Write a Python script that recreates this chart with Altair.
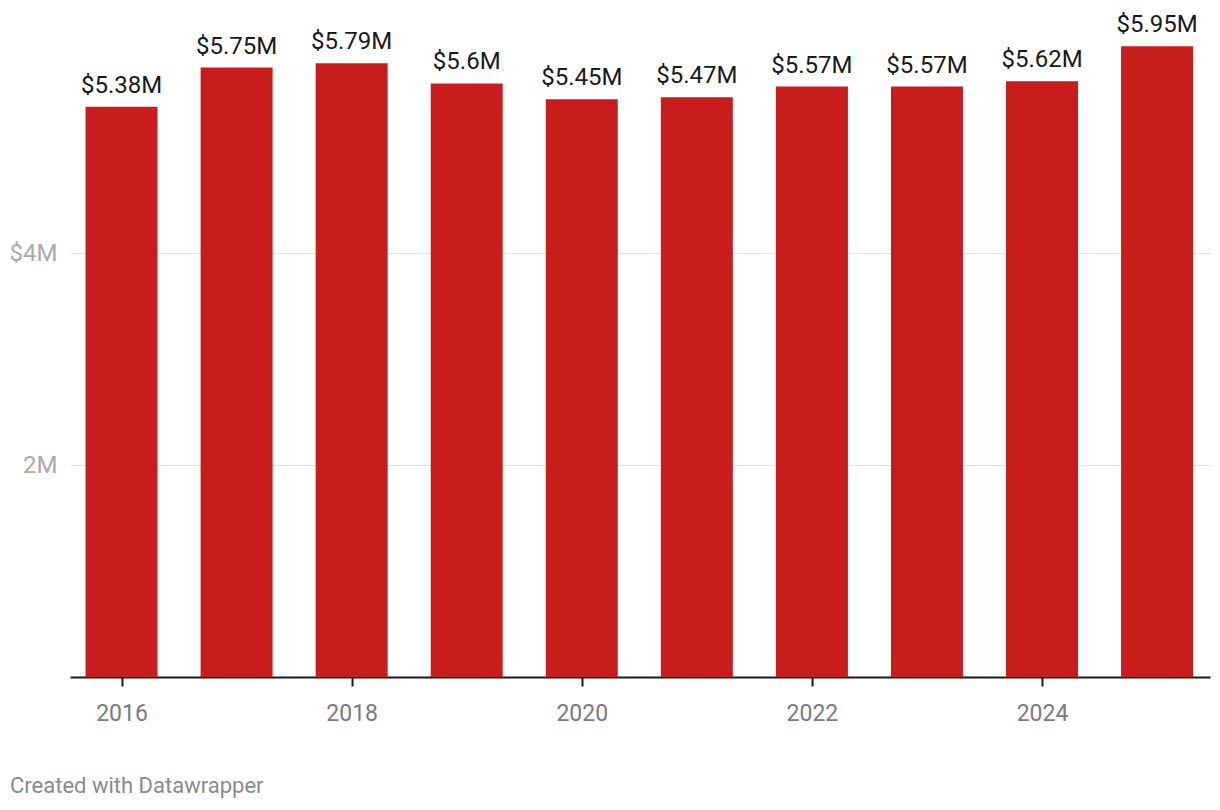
import altair as alt
import pandas as pd

years = [2016, 2017, 2018, 2019, 2020, 2021, 2022, 2023, 2024, 2025]
values = [5.38, 5.75, 5.79, 5.6, 5.45, 5.47, 5.57, 5.57, 5.62, 5.95]
labels = [f"${v:g}M" for v in values]
x_ticks = [2016, 2018, 2020, 2022, 2024]
y_ticks = [2, 4]

df = pd.DataFrame({"year": years, "value": values, "label": labels})

FONT = "Roboto"
x_scale = alt.Scale(domain=[2015.552, 2025.46], nice=False, zero=False, padding=0)
y_scale = alt.Scale(domain=[0, 6], nice=False)

base = alt.Chart(df)

bars = base.mark_bar(color="#c71e1d", size=72).encode(
    x=alt.X("year:Q", scale=x_scale, axis=alt.Axis(
        values=x_ticks, format="d", title=None, grid=False,
        domain=True, domainColor="#1a1a1a", domainWidth=2,
        ticks=True, tickColor="#1a1a1a", tickWidth=2, tickSize=9,
        labelFont=FONT, labelFontSize=23, labelColor="#7b7b7b", labelPadding=16,
    )),
    y=alt.Y("value:Q", scale=y_scale, axis=alt.Axis(
        values=y_ticks, title=None, grid=True, gridColor="#e2e2e2", gridWidth=1,
        domain=False, ticks=False,
        labelExpr="datum.value == 4 ? '$4M' : datum.value + 'M'",
        labelFont=FONT, labelFontSize=24, labelColor="#aaaaaa", labelPadding=13,
    )),
)

text = base.mark_text(font=FONT, fontSize=24, color="#1a1a1a", baseline="bottom", dy=-9).encode(
    x=alt.X("year:Q", scale=x_scale),
    y=alt.Y("value:Q", scale=y_scale),
    text="label:N",
)

chart = (bars + text).properties(
    width=1140,
    height=636,
    title=alt.TitleParams(
        text="Created with Datawrapper", orient="bottom", anchor="start", frame="group",
        font=FONT, fontSize=22, fontWeight="normal", color="#8a8a8a", offset=51, dx=-60,
    ),
    autosize=alt.AutoSizeParams(type="none"),
    padding={"left": 70, "top": 41, "right": 10, "bottom": 133},
).configure_view(stroke=None)

chart.save("out.html", embed_options={"renderer": "svg", "actions": False})
